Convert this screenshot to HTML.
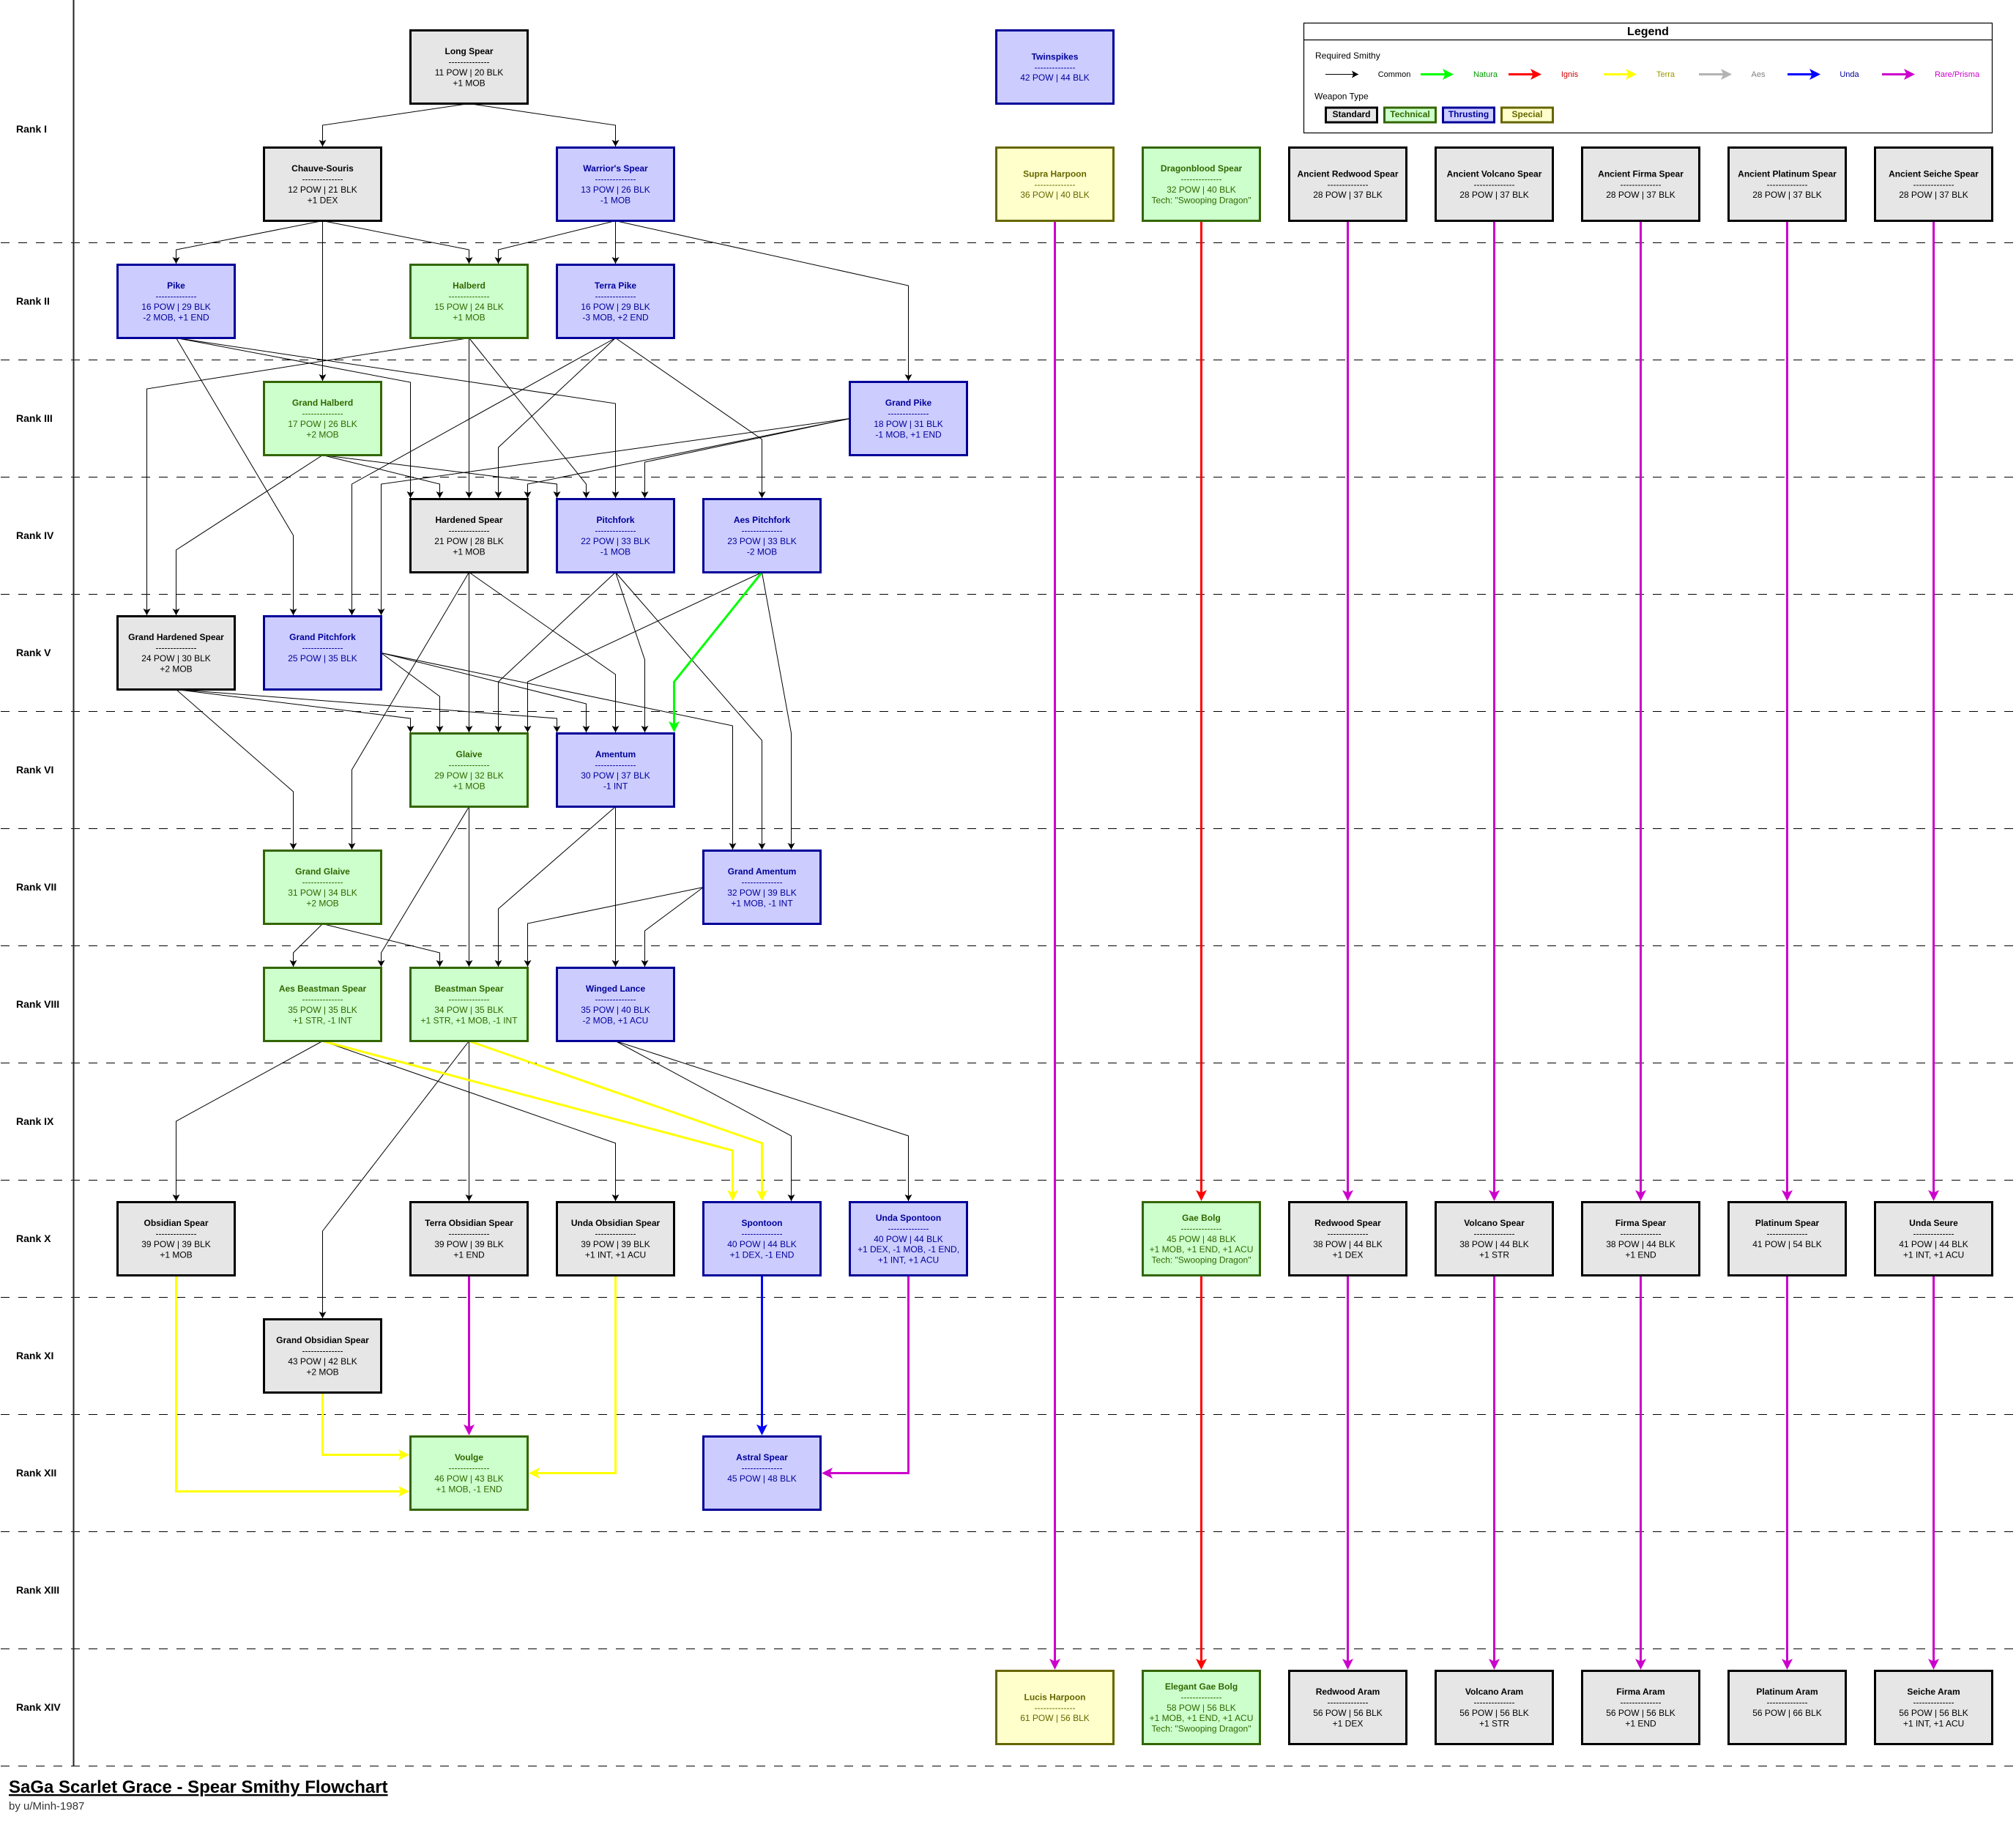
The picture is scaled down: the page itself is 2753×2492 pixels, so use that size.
<!DOCTYPE html>
<html><head><meta charset="utf-8"><title>SaGa Scarlet Grace - Spear Smithy Flowchart</title>
<style>
html,body{margin:0;padding:0;background:#fff}
svg{display:block;font-family:"Liberation Sans",Arial,sans-serif}
.n text{font-size:12px;text-anchor:middle}
.n text.b{font-weight:bold}
.n rect{stroke-width:3}
.g rect{fill:#e6e6e6;stroke:#000}.g text{fill:#000}
.t rect{fill:#ccffcc;stroke:#336600}.t text{fill:#336600}
.u rect{fill:#ccccff;stroke:#000099}.u text{fill:#000099}
.y rect{fill:#ffffcc;stroke:#666600}.y text{fill:#666600}
.rank{font-size:14px;font-weight:bold;fill:#000}
.thin path{fill:none;stroke:#000;stroke-width:1;marker-end:url(#mk)}
.thick path{fill:none;stroke-width:3}
.lg{font-size:11px;text-anchor:middle}
</style></head><body>
<svg xmlns="http://www.w3.org/2000/svg" width="2753" height="2492" viewBox="0 0 2753 2492">
<defs>
<marker id="mk" markerUnits="userSpaceOnUse" markerWidth="9" markerHeight="10" refX="9" refY="5" orient="auto"><path d="M9 5L0 0L2 5L0 10Z" fill="#000"/></marker>
<marker id="mY" markerUnits="userSpaceOnUse" markerWidth="15" markerHeight="15" refX="12" refY="7.5" orient="auto"><path d="M15 7.5L0 0L3.5 7.5L0 15Z" fill="#ffff00"/></marker>
<marker id="mM" markerUnits="userSpaceOnUse" markerWidth="15" markerHeight="15" refX="12" refY="7.5" orient="auto"><path d="M15 7.5L0 0L3.5 7.5L0 15Z" fill="#cc00cc"/></marker>
<marker id="mR" markerUnits="userSpaceOnUse" markerWidth="15" markerHeight="15" refX="12" refY="7.5" orient="auto"><path d="M15 7.5L0 0L3.5 7.5L0 15Z" fill="#ff0000"/></marker>
<marker id="mB" markerUnits="userSpaceOnUse" markerWidth="15" markerHeight="15" refX="12" refY="7.5" orient="auto"><path d="M15 7.5L0 0L3.5 7.5L0 15Z" fill="#0000ff"/></marker>
<marker id="mG" markerUnits="userSpaceOnUse" markerWidth="15" markerHeight="15" refX="12" refY="7.5" orient="auto"><path d="M15 7.5L0 0L3.5 7.5L0 15Z" fill="#00ff00"/></marker>
<marker id="mA" markerUnits="userSpaceOnUse" markerWidth="15" markerHeight="15" refX="12" refY="7.5" orient="auto"><path d="M15 7.5L0 0L3.5 7.5L0 15Z" fill="#b3b3b3"/></marker>
</defs>
<rect width="2753" height="2492" fill="#fff"/>

<!-- rank separators -->
<g stroke="#000" stroke-width="1" stroke-dasharray="12 12" fill="none">
<path d="M1 331.5H2753"/><path d="M1 491.5H2753"/><path d="M1 651.5H2753"/><path d="M1 811.5H2753"/><path d="M1 971.5H2753"/><path d="M1 1131.5H2753"/><path d="M1 1291.5H2753"/><path d="M1 1451.5H2753"/><path d="M1 1611.5H2753"/><path d="M1 1771.5H2753"/><path d="M1 1931.5H2753"/><path d="M1 2091.5H2753"/><path d="M1 2251.5H2753"/><path d="M1 2411.5H2753"/>
</g>
<path d="M100.5 0V2411" stroke="#222" stroke-width="2" fill="none"/>

<text class="rank" x="22" y="181">Rank I</text>
<text class="rank" x="22" y="416">Rank II</text>
<text class="rank" x="22" y="576">Rank III</text>
<text class="rank" x="22" y="736">Rank IV</text>
<text class="rank" x="22" y="896">Rank V</text>
<text class="rank" x="22" y="1056">Rank VI</text>
<text class="rank" x="22" y="1216">Rank VII</text>
<text class="rank" x="22" y="1376">Rank VIII</text>
<text class="rank" x="22" y="1536">Rank IX</text>
<text class="rank" x="22" y="1696">Rank X</text>
<text class="rank" x="22" y="1856">Rank XI</text>
<text class="rank" x="22" y="2016">Rank XII</text>
<text class="rank" x="22" y="2176">Rank XIII</text>
<text class="rank" x="22" y="2336">Rank XIV</text>

<!-- common edges -->
<g class="thin">
<path d="M640.5 141.5L440.5 171V200"/>
<path d="M640.5 141.5L840.5 171V200"/>
<path d="M440.5 301.5L240.5 341V360"/>
<path d="M440.5 301.5L640.5 341V360"/>
<path d="M440.5 301.5V520"/>
<path d="M840.5 301.5L680.5 341V360"/>
<path d="M840.5 301.5V360"/>
<path d="M840.5 301.5L1240.5 390V520"/>
<path d="M240.5 461.5L400.5 731V840"/>
<path d="M240.5 461.5L560.5 522V680"/>
<path d="M240.5 461.5L840.5 551V680"/>
<path d="M640.5 461.5L200.5 531V840"/>
<path d="M640.5 461.5V680"/>
<path d="M640.5 461.5L800.5 661V680"/>
<path d="M840.5 461.5L480.5 661V840"/>
<path d="M840.5 461.5L680.5 611V680"/>
<path d="M840.5 461.5L1040.5 600V680"/>
<path d="M440.5 621.5L240.5 751V840"/>
<path d="M440.5 621.5L600.5 661V680"/>
<path d="M440.5 621.5L760.5 661V680"/>
<path d="M1160.5 571.5L520.5 661V840"/>
<path d="M1160.5 571.5L720.5 661V680"/>
<path d="M1160.5 571.5L880.5 631V680"/>
<path d="M640.5 781.5L480.5 1051V1160"/>
<path d="M640.5 781.5V1000"/>
<path d="M640.5 781.5L840.5 921V1000"/>
<path d="M840.5 781.5L680.5 931V1000"/>
<path d="M840.5 781.5L880.5 901V1000"/>
<path d="M840.5 781.5L1040.5 1011V1160"/>
<path d="M1040.5 781.5L720.5 931V1000"/>
<path d="M1040.5 781.5L1080.5 1001V1160"/>
<path d="M240.5 941.5L400.5 1081V1160"/>
<path d="M240.5 941.5L560.5 981V1000"/>
<path d="M240.5 941.5L760.5 981V1000"/>
<path d="M520.5 891.5L600.5 951V1000"/>
<path d="M520.5 891.5L800.5 961V1000"/>
<path d="M520.5 891.5L1000.5 991V1160"/>
<path d="M640.5 1101.5L520.5 1301V1320"/>
<path d="M640.5 1101.5V1320"/>
<path d="M840.5 1101.5L680.5 1241V1320"/>
<path d="M840.5 1101.5V1320"/>
<path d="M960.5 1211.5L720.5 1261V1320"/>
<path d="M960.5 1211.5L880.5 1271V1320"/>
<path d="M440.5 1261.5L400.5 1301V1320"/>
<path d="M440.5 1261.5L600.5 1301V1320"/>
<path d="M440.5 1421.5L240.5 1531V1640"/>
<path d="M440.5 1421.5L840.5 1561V1640"/>
<path d="M640.5 1421.5L440.5 1681V1800"/>
<path d="M640.5 1421.5V1640"/>
<path d="M840.5 1421.5L1080.5 1551V1640"/>
<path d="M840.5 1421.5L1240.5 1551V1640"/>
</g>

<!-- elemental edges -->
<g class="thick">
<path stroke="#00ff00" marker-end="url(#mG)" d="M1040.5 781.5L920.5 931V997"/>
<path stroke="#ffff00" marker-end="url(#mY)" d="M440.5 1421.5L1000.5 1571V1637"/>
<path stroke="#ffff00" marker-end="url(#mY)" d="M640.5 1421.5L1040.5 1561V1637"/>
<path stroke="#ffff00" marker-end="url(#mY)" d="M240.5 1741.5V2036.5H556"/>
<path stroke="#ffff00" marker-end="url(#mY)" d="M440.5 1901.5V1986.5H556"/>
<path stroke="#cc00cc" marker-end="url(#mM)" d="M640.5 1741.5V1957"/>
<path stroke="#ffff00" marker-end="url(#mY)" d="M840.5 1741.5V2011.5H725"/>
<path stroke="#0000ff" marker-end="url(#mB)" d="M1040.5 1741.5V1957"/>
<path stroke="#cc00cc" marker-end="url(#mM)" d="M1240.5 1741.5V2011.5H1125"/>
<path stroke="#cc00cc" marker-end="url(#mM)" d="M1440.5 301.5V2277"/>
<path stroke="#ff0000" marker-end="url(#mR)" d="M1640.5 301.5V1637"/>
<path stroke="#ff0000" marker-end="url(#mR)" d="M1640.5 1741.5V2277"/>
<path stroke="#cc00cc" marker-end="url(#mM)" d="M1840.5 301.5V1637"/>
<path stroke="#cc00cc" marker-end="url(#mM)" d="M1840.5 1741.5V2277"/>
<path stroke="#cc00cc" marker-end="url(#mM)" d="M2040.5 301.5V1637"/>
<path stroke="#cc00cc" marker-end="url(#mM)" d="M2040.5 1741.5V2277"/>
<path stroke="#cc00cc" marker-end="url(#mM)" d="M2240.5 301.5V1637"/>
<path stroke="#cc00cc" marker-end="url(#mM)" d="M2240.5 1741.5V2277"/>
<path stroke="#cc00cc" marker-end="url(#mM)" d="M2440.5 301.5V1637"/>
<path stroke="#cc00cc" marker-end="url(#mM)" d="M2440.5 1741.5V2277"/>
<path stroke="#cc00cc" marker-end="url(#mM)" d="M2640.5 301.5V1637"/>
<path stroke="#cc00cc" marker-end="url(#mM)" d="M2640.5 1741.5V2277"/>
</g>

<!-- nodes -->
<g class="n g" transform="translate(640.5,91.5)"><rect x="-80" y="-50" width="160" height="100"/><text y="-17.3" class="b">Long Spear</text><text y="-2.9">--------------</text><text y="11.5">11 POW | 20 BLK</text><text y="25.9">+1 MOB</text></g>
<g class="n g" transform="translate(440.5,251.5)"><rect x="-80" y="-50" width="160" height="100"/><text y="-17.3" class="b">Chauve-Souris</text><text y="-2.9">--------------</text><text y="11.5">12 POW | 21 BLK</text><text y="25.9">+1 DEX</text></g>
<g class="n u" transform="translate(840.5,251.5)"><rect x="-80" y="-50" width="160" height="100"/><text y="-17.3" class="b">Warrior's Spear</text><text y="-2.9">--------------</text><text y="11.5">13 POW | 26 BLK</text><text y="25.9">-1 MOB</text></g>
<g class="n u" transform="translate(240.5,411.5)"><rect x="-80" y="-50" width="160" height="100"/><text y="-17.3" class="b">Pike</text><text y="-2.9">--------------</text><text y="11.5">16 POW | 29 BLK</text><text y="25.9">-2 MOB, +1 END</text></g>
<g class="n t" transform="translate(640.5,411.5)"><rect x="-80" y="-50" width="160" height="100"/><text y="-17.3" class="b">Halberd</text><text y="-2.9">--------------</text><text y="11.5">15 POW | 24 BLK</text><text y="25.9">+1 MOB</text></g>
<g class="n u" transform="translate(840.5,411.5)"><rect x="-80" y="-50" width="160" height="100"/><text y="-17.3" class="b">Terra Pike</text><text y="-2.9">--------------</text><text y="11.5">16 POW | 29 BLK</text><text y="25.9">-3 MOB, +2 END</text></g>
<g class="n t" transform="translate(440.5,571.5)"><rect x="-80" y="-50" width="160" height="100"/><text y="-17.3" class="b">Grand Halberd</text><text y="-2.9">--------------</text><text y="11.5">17 POW | 26 BLK</text><text y="25.9">+2 MOB</text></g>
<g class="n u" transform="translate(1240.5,571.5)"><rect x="-80" y="-50" width="160" height="100"/><text y="-17.3" class="b">Grand Pike</text><text y="-2.9">--------------</text><text y="11.5">18 POW | 31 BLK</text><text y="25.9">-1 MOB, +1 END</text></g>
<g class="n g" transform="translate(640.5,731.5)"><rect x="-80" y="-50" width="160" height="100"/><text y="-17.3" class="b">Hardened Spear</text><text y="-2.9">--------------</text><text y="11.5">21 POW | 28 BLK</text><text y="25.9">+1 MOB</text></g>
<g class="n u" transform="translate(840.5,731.5)"><rect x="-80" y="-50" width="160" height="100"/><text y="-17.3" class="b">Pitchfork</text><text y="-2.9">--------------</text><text y="11.5">22 POW | 33 BLK</text><text y="25.9">-1 MOB</text></g>
<g class="n u" transform="translate(1040.5,731.5)"><rect x="-80" y="-50" width="160" height="100"/><text y="-17.3" class="b">Aes Pitchfork</text><text y="-2.9">--------------</text><text y="11.5">23 POW | 33 BLK</text><text y="25.9">-2 MOB</text></g>
<g class="n g" transform="translate(240.5,891.5)"><rect x="-80" y="-50" width="160" height="100"/><text y="-17.3" class="b">Grand Hardened Spear</text><text y="-2.9">--------------</text><text y="11.5">24 POW | 30 BLK</text><text y="25.9">+2 MOB</text></g>
<g class="n u" transform="translate(440.5,891.5)"><rect x="-80" y="-50" width="160" height="100"/><text y="-17.3" class="b">Grand Pitchfork</text><text y="-2.9">--------------</text><text y="11.5">25 POW | 35 BLK</text></g>
<g class="n t" transform="translate(640.5,1051.5)"><rect x="-80" y="-50" width="160" height="100"/><text y="-17.3" class="b">Glaive</text><text y="-2.9">--------------</text><text y="11.5">29 POW | 32 BLK</text><text y="25.9">+1 MOB</text></g>
<g class="n u" transform="translate(840.5,1051.5)"><rect x="-80" y="-50" width="160" height="100"/><text y="-17.3" class="b">Amentum</text><text y="-2.9">--------------</text><text y="11.5">30 POW | 37 BLK</text><text y="25.9">-1 INT</text></g>
<g class="n t" transform="translate(440.5,1211.5)"><rect x="-80" y="-50" width="160" height="100"/><text y="-17.3" class="b">Grand Glaive</text><text y="-2.9">--------------</text><text y="11.5">31 POW | 34 BLK</text><text y="25.9">+2 MOB</text></g>
<g class="n u" transform="translate(1040.5,1211.5)"><rect x="-80" y="-50" width="160" height="100"/><text y="-17.3" class="b">Grand Amentum</text><text y="-2.9">--------------</text><text y="11.5">32 POW | 39 BLK</text><text y="25.9">+1 MOB, -1 INT</text></g>
<g class="n t" transform="translate(440.5,1371.5)"><rect x="-80" y="-50" width="160" height="100"/><text y="-17.3" class="b">Aes Beastman Spear</text><text y="-2.9">--------------</text><text y="11.5">35 POW | 35 BLK</text><text y="25.9">+1 STR, -1 INT</text></g>
<g class="n t" transform="translate(640.5,1371.5)"><rect x="-80" y="-50" width="160" height="100"/><text y="-17.3" class="b">Beastman Spear</text><text y="-2.9">--------------</text><text y="11.5">34 POW | 35 BLK</text><text y="25.9">+1 STR, +1 MOB, -1 INT</text></g>
<g class="n u" transform="translate(840.5,1371.5)"><rect x="-80" y="-50" width="160" height="100"/><text y="-17.3" class="b">Winged Lance</text><text y="-2.9">--------------</text><text y="11.5">35 POW | 40 BLK</text><text y="25.9">-2 MOB, +1 ACU</text></g>
<g class="n g" transform="translate(240.5,1691.5)"><rect x="-80" y="-50" width="160" height="100"/><text y="-17.3" class="b">Obsidian Spear</text><text y="-2.9">--------------</text><text y="11.5">39 POW | 39 BLK</text><text y="25.9">+1 MOB</text></g>
<g class="n g" transform="translate(640.5,1691.5)"><rect x="-80" y="-50" width="160" height="100"/><text y="-17.3" class="b">Terra Obsidian Spear</text><text y="-2.9">--------------</text><text y="11.5">39 POW | 39 BLK</text><text y="25.9">+1 END</text></g>
<g class="n g" transform="translate(840.5,1691.5)"><rect x="-80" y="-50" width="160" height="100"/><text y="-17.3" class="b">Unda Obsidian Spear</text><text y="-2.9">--------------</text><text y="11.5">39 POW | 39 BLK</text><text y="25.9">+1 INT, +1 ACU</text></g>
<g class="n u" transform="translate(1040.5,1691.5)"><rect x="-80" y="-50" width="160" height="100"/><text y="-17.3" class="b">Spontoon</text><text y="-2.9">--------------</text><text y="11.5">40 POW | 44 BLK</text><text y="25.9">+1 DEX, -1 END</text></g>
<g class="n u" transform="translate(1240.5,1691.5)"><rect x="-80" y="-50" width="160" height="100"/><text y="-24.5" class="b">Unda Spontoon</text><text y="-10.1">--------------</text><text y="4.3">40 POW | 44 BLK</text><text y="18.7">+1 DEX, -1 MOB, -1 END,</text><text y="33.1">+1 INT, +1 ACU</text></g>
<g class="n g" transform="translate(440.5,1851.5)"><rect x="-80" y="-50" width="160" height="100"/><text y="-17.3" class="b">Grand Obsidian Spear</text><text y="-2.9">--------------</text><text y="11.5">43 POW | 42 BLK</text><text y="25.9">+2 MOB</text></g>
<g class="n t" transform="translate(640.5,2011.5)"><rect x="-80" y="-50" width="160" height="100"/><text y="-17.3" class="b">Voulge</text><text y="-2.9">--------------</text><text y="11.5">46 POW | 43 BLK</text><text y="25.9">+1 MOB, -1 END</text></g>
<g class="n u" transform="translate(1040.5,2011.5)"><rect x="-80" y="-50" width="160" height="100"/><text y="-17.3" class="b">Astral Spear</text><text y="-2.9">--------------</text><text y="11.5">45 POW | 48 BLK</text></g>

<g class="n u" transform="translate(1440.5,91.5)"><rect x="-80" y="-50" width="160" height="100"/><text y="-10.1" class="b">Twinspikes</text><text y="4.3">--------------</text><text y="18.7">42 POW | 44 BLK</text></g>
<g class="n y" transform="translate(1440.5,251.5)"><rect x="-80" y="-50" width="160" height="100"/><text y="-10.1" class="b">Supra Harpoon</text><text y="4.3">--------------</text><text y="18.7">36 POW | 40 BLK</text></g>
<g class="n t" transform="translate(1640.5,251.5)"><rect x="-80" y="-50" width="160" height="100"/><text y="-17.3" class="b">Dragonblood Spear</text><text y="-2.9">--------------</text><text y="11.5">32 POW | 40 BLK</text><text y="25.9">Tech: "Swooping Dragon"</text></g>
<g class="n g" transform="translate(1840.5,251.5)"><rect x="-80" y="-50" width="160" height="100"/><text y="-10.1" class="b">Ancient Redwood Spear</text><text y="4.3">--------------</text><text y="18.7">28 POW | 37 BLK</text></g>
<g class="n g" transform="translate(2040.5,251.5)"><rect x="-80" y="-50" width="160" height="100"/><text y="-10.1" class="b">Ancient Volcano Spear</text><text y="4.3">--------------</text><text y="18.7">28 POW | 37 BLK</text></g>
<g class="n g" transform="translate(2240.5,251.5)"><rect x="-80" y="-50" width="160" height="100"/><text y="-10.1" class="b">Ancient Firma Spear</text><text y="4.3">--------------</text><text y="18.7">28 POW | 37 BLK</text></g>
<g class="n g" transform="translate(2440.5,251.5)"><rect x="-80" y="-50" width="160" height="100"/><text y="-10.1" class="b">Ancient Platinum Spear</text><text y="4.3">--------------</text><text y="18.7">28 POW | 37 BLK</text></g>
<g class="n g" transform="translate(2640.5,251.5)"><rect x="-80" y="-50" width="160" height="100"/><text y="-10.1" class="b">Ancient Seiche Spear</text><text y="4.3">--------------</text><text y="18.7">28 POW | 37 BLK</text></g>

<g class="n t" transform="translate(1640.5,1691.5)"><rect x="-80" y="-50" width="160" height="100"/><text y="-24.5" class="b">Gae Bolg</text><text y="-10.1">--------------</text><text y="4.3">45 POW | 48 BLK</text><text y="18.7">+1 MOB, +1 END, +1 ACU</text><text y="33.1">Tech: "Swooping Dragon"</text></g>
<g class="n g" transform="translate(1840.5,1691.5)"><rect x="-80" y="-50" width="160" height="100"/><text y="-17.3" class="b">Redwood Spear</text><text y="-2.9">--------------</text><text y="11.5">38 POW | 44 BLK</text><text y="25.9">+1 DEX</text></g>
<g class="n g" transform="translate(2040.5,1691.5)"><rect x="-80" y="-50" width="160" height="100"/><text y="-17.3" class="b">Volcano Spear</text><text y="-2.9">--------------</text><text y="11.5">38 POW | 44 BLK</text><text y="25.9">+1 STR</text></g>
<g class="n g" transform="translate(2240.5,1691.5)"><rect x="-80" y="-50" width="160" height="100"/><text y="-17.3" class="b">Firma Spear</text><text y="-2.9">--------------</text><text y="11.5">38 POW | 44 BLK</text><text y="25.9">+1 END</text></g>
<g class="n g" transform="translate(2440.5,1691.5)"><rect x="-80" y="-50" width="160" height="100"/><text y="-17.3" class="b">Platinum Spear</text><text y="-2.9">--------------</text><text y="11.5">41 POW | 54 BLK</text></g>
<g class="n g" transform="translate(2640.5,1691.5)"><rect x="-80" y="-50" width="160" height="100"/><text y="-17.3" class="b">Unda Seure</text><text y="-2.9">--------------</text><text y="11.5">41 POW | 44 BLK</text><text y="25.9">+1 INT, +1 ACU</text></g>

<g class="n y" transform="translate(1440.5,2331.5)"><rect x="-80" y="-50" width="160" height="100"/><text y="-10.1" class="b">Lucis Harpoon</text><text y="4.3">--------------</text><text y="18.7">61 POW | 56 BLK</text></g>
<g class="n t" transform="translate(1640.5,2331.5)"><rect x="-80" y="-50" width="160" height="100"/><text y="-24.5" class="b">Elegant Gae Bolg</text><text y="-10.1">--------------</text><text y="4.3">58 POW | 56 BLK</text><text y="18.7">+1 MOB, +1 END, +1 ACU</text><text y="33.1">Tech: "Swooping Dragon"</text></g>
<g class="n g" transform="translate(1840.5,2331.5)"><rect x="-80" y="-50" width="160" height="100"/><text y="-17.3" class="b">Redwood Aram</text><text y="-2.9">--------------</text><text y="11.5">56 POW | 56 BLK</text><text y="25.9">+1 DEX</text></g>
<g class="n g" transform="translate(2040.5,2331.5)"><rect x="-80" y="-50" width="160" height="100"/><text y="-17.3" class="b">Volcano Aram</text><text y="-2.9">--------------</text><text y="11.5">56 POW | 56 BLK</text><text y="25.9">+1 STR</text></g>
<g class="n g" transform="translate(2240.5,2331.5)"><rect x="-80" y="-50" width="160" height="100"/><text y="-17.3" class="b">Firma Aram</text><text y="-2.9">--------------</text><text y="11.5">56 POW | 56 BLK</text><text y="25.9">+1 END</text></g>
<g class="n g" transform="translate(2440.5,2331.5)"><rect x="-80" y="-50" width="160" height="100"/><text y="-17.3" class="b">Platinum Aram</text><text y="-2.9">--------------</text><text y="11.5">56 POW | 66 BLK</text></g>
<g class="n g" transform="translate(2640.5,2331.5)"><rect x="-80" y="-50" width="160" height="100"/><text y="-17.3" class="b">Seiche Aram</text><text y="-2.9">--------------</text><text y="11.5">56 POW | 56 BLK</text><text y="25.9">+1 INT, +1 ACU</text></g>

<!-- legend -->
<rect x="1780.5" y="31.5" width="940" height="150" fill="#fff" stroke="#000" stroke-width="1.2"/>
<path d="M1780.5 54.5H2720.5" stroke="#000" stroke-width="1.2" fill="none"/>
<text x="2250.5" y="48" font-size="16" font-weight="bold" text-anchor="middle">Legend</text>
<text x="1796" y="80" font-size="12">Required Smithy</text>
<path d="M1810 101.5H1855" stroke="#000" stroke-width="1" fill="none" marker-end="url(#mk)"/>
<text class="lg" x="1904" y="105" fill="#000">Common</text>
<path d="M1940 101.5H1982" stroke="#00ff00" stroke-width="3" fill="none" marker-end="url(#mG)"/>
<text class="lg" x="2028.5" y="105" fill="#009900">Natura</text>
<path d="M2060 101.5H2102" stroke="#ff0000" stroke-width="3" fill="none" marker-end="url(#mR)"/>
<text class="lg" x="2143.5" y="105" fill="#cc0000">Ignis</text>
<path d="M2190 101.5H2232" stroke="#ffff00" stroke-width="3" fill="none" marker-end="url(#mY)"/>
<text class="lg" x="2274.5" y="105" fill="#999900">Terra</text>
<path d="M2320 101.5H2362" stroke="#b3b3b3" stroke-width="3" fill="none" marker-end="url(#mA)"/>
<text class="lg" x="2401" y="105" fill="#808080">Aes</text>
<path d="M2441 101.5H2483" stroke="#0000ff" stroke-width="3" fill="none" marker-end="url(#mB)"/>
<text class="lg" x="2525.5" y="105" fill="#000099">Unda</text>
<path d="M2570 101.5H2612" stroke="#cc00cc" stroke-width="3" fill="none" marker-end="url(#mM)"/>
<text class="lg" x="2672.5" y="105" fill="#cc00cc">Rare/Prisma</text>
<text x="1795" y="135.5" font-size="12">Weapon Type</text>
<g font-size="12" font-weight="bold" text-anchor="middle" stroke-width="3">
<rect x="1810.5" y="147" width="70" height="20" fill="#e6e6e6" stroke="#000"/><text x="1845.5" y="160" fill="#000">Standard</text>
<rect x="1890.5" y="147" width="70" height="20" fill="#ccffcc" stroke="#336600"/><text x="1925.5" y="160" fill="#336600">Technical</text>
<rect x="1970.5" y="147" width="70" height="20" fill="#ccccff" stroke="#000099"/><text x="2005.5" y="160" fill="#000099">Thrusting</text>
<rect x="2050.5" y="147" width="70" height="20" fill="#ffffcc" stroke="#666600"/><text x="2085.5" y="160" fill="#666600">Special</text>
</g>

<text x="12" y="2448" font-size="24" font-weight="bold" text-decoration="underline" fill="#000">SaGa Scarlet Grace - Spear Smithy Flowchart</text>
<text x="12" y="2471" font-size="15" fill="#333">by u/Minh-1987</text>
</svg>
</body></html>
